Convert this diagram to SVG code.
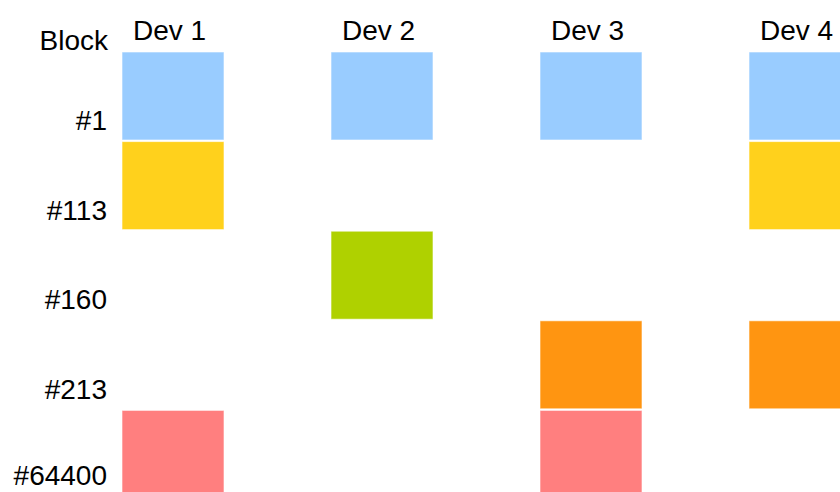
<svg xmlns="http://www.w3.org/2000/svg" width="840" height="492" viewBox="0 0 840 492">
<style>
text{font-family:"Liberation Sans",Arial,sans-serif;font-size:28px;fill:#000}
.r{text-anchor:end}
rect.b{stroke:#ffffff;stroke-opacity:0.6;stroke-width:1}
.blue{fill:#99ccff}.yel{fill:#ffd11c}.grn{fill:#afd100}.org{fill:#ff9511}.pnk{fill:#ff7f7f}
</style>
<rect width="840" height="492" fill="#fff"/>
<g id="headers">
<text class="r" x="108" y="50">Block</text>
<text x="133" y="40">Dev 1</text>
<text x="342" y="40">Dev 2</text>
<text x="551" y="40">Dev 3</text>
<text x="760" y="40">Dev 4</text>
</g>
<g id="rowlabels">
<text class="r" x="107" y="130">#1</text>
<text class="r" x="107" y="219.5">#113</text>
<text class="r" x="107" y="309">#160</text>
<text class="r" x="107" y="398.5">#213</text>
<text class="r" x="107" y="485">#64400</text>
</g>
<g id="row1">
<rect class="b blue" x="122" y="52" width="102" height="88"/>
<rect class="b blue" x="331" y="52" width="102" height="88"/>
<rect class="b blue" x="540" y="52" width="102" height="88"/>
<rect class="b blue" x="749" y="52" width="102" height="88"/>
</g>
<g id="row113">
<rect class="b yel" x="122" y="141.6" width="102" height="88"/>
<rect class="b yel" x="749" y="141.6" width="102" height="88"/>
</g>
<g id="row160">
<rect class="b grn" x="331" y="231.2" width="102" height="88"/>
</g>
<g id="row213">
<rect class="b org" x="540" y="320.8" width="102" height="88"/>
<rect class="b org" x="749" y="320.8" width="102" height="88"/>
</g>
<g id="row64400">
<rect class="b pnk" x="122" y="410.4" width="102" height="88"/>
<rect class="b pnk" x="540" y="410.4" width="102" height="88"/>
</g>
<g id="connectors"></g>
</svg>
